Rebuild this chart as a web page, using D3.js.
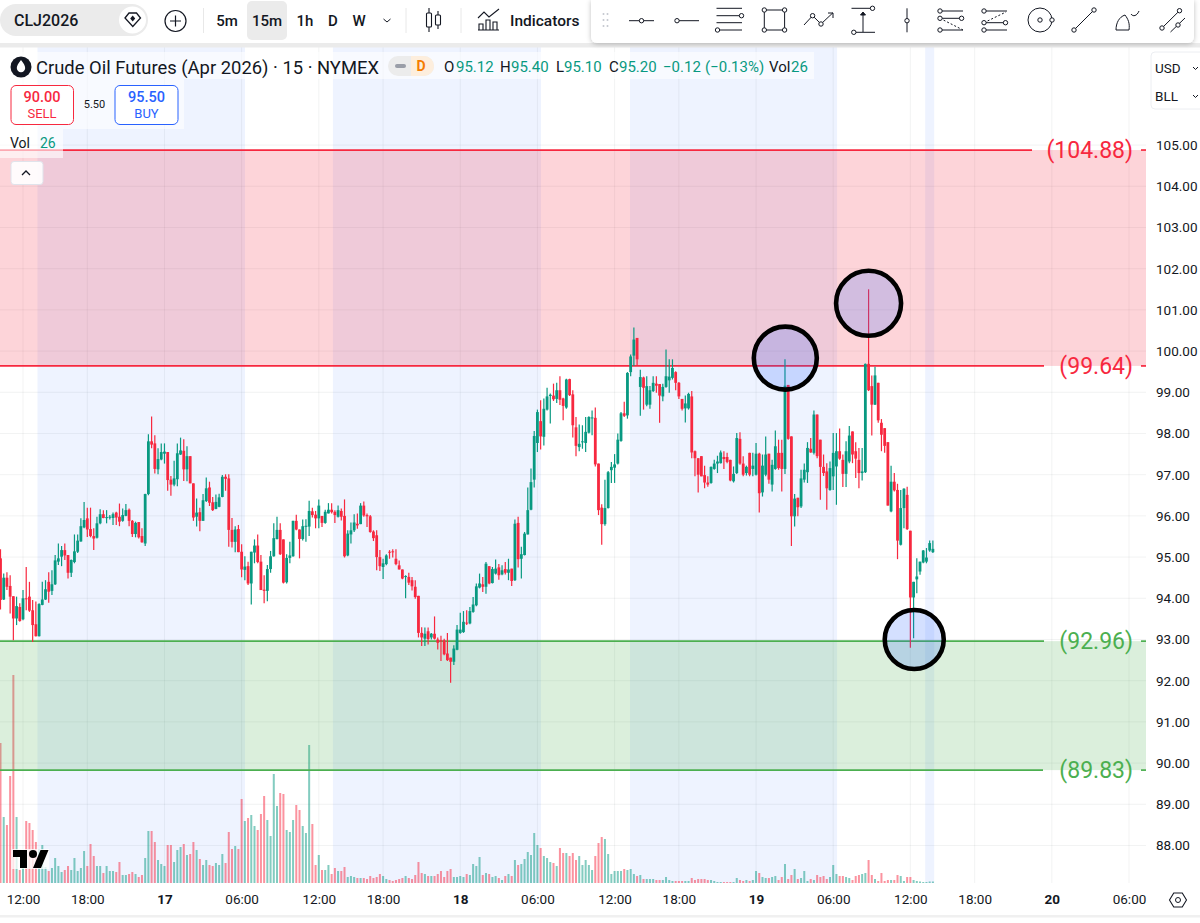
<!DOCTYPE html>
<html>
<head>
<meta charset="utf-8">
<script src="https://cdn.jsdelivr.net/npm/d3@7"></script>
<style>
  html, body { margin: 0; padding: 0; background: #fff; }
  svg { display: block; font-family: Roboto, "Noto Sans", sans-serif; }
</style>
</head>
<body>
<div id="chart"></div>
<script>
// 15 minute bars
const opens = [
  94.97,93.97,94.50,94.30,94.05,93.51,93.79,93.49,94.00,94.04,
  93.71,93.37,93.08,93.84,93.97,94.40,94.18,94.34,94.89,95.01,
  95.17,95.05,94.62,94.88,95.13,95.38,95.72,95.94,95.68,95.51,
  95.47,95.82,96.04,95.95,95.96,95.95,96.08,95.98,95.88,96.00,
  96.15,95.88,95.56,95.85,95.51,95.33,96.53,97.81,97.76,97.13,
  97.37,97.51,97.55,96.88,96.76,96.89,97.49,97.58,97.13,97.45,
  96.79,95.98,96.09,95.88,96.36,96.69,96.33,96.17,96.22,96.46,
  96.95,96.91,95.66,95.37,95.68,95.13,94.69,94.78,94.36,95.11,
  95.28,94.89,94.21,94.18,94.71,95.02,95.44,95.66,95.43,94.39,
  94.98,95.02,95.88,95.67,95.44,95.74,95.74,96.11,96.03,95.94,
  96.00,95.83,96.06,96.15,96.10,95.98,96.12,96.00,95.04,95.55,
  95.65,95.81,95.80,96.25,96.02,95.99,95.62,95.53,95.00,94.76,
  94.83,95.13,95.14,94.96,94.80,94.70,94.52,94.52,94.44,94.28,
  94.06,93.16,93.02,93.20,93.05,93.14,93.00,92.98,92.98,92.66,
  92.56,92.46,92.75,93.16,93.18,93.41,93.39,93.67,93.83,94.26,
  94.34,94.28,94.78,94.37,94.60,94.75,94.58,94.71,94.62,94.72,
  94.44,95.83,94.96,95.05,95.55,96.15,96.88,97.77,98.30,97.92,
  98.58,98.91,98.92,98.84,99.05,98.85,98.63,99.32,98.95,98.15,
  97.67,97.80,97.77,98.02,98.38,98.38,97.27,96.20,95.80,96.19,
  97.11,97.17,97.27,97.82,98.49,98.44,99.49,99.89,100.32,99.13,
  99.36,98.70,98.70,99.03,99.21,99.20,98.90,99.13,99.29,99.35,
  99.49,99.23,98.84,98.61,98.61,98.90,97.57,97.40,97.45,96.99,
  96.81,96.80,97.14,97.27,97.28,97.43,97.43,97.36,96.84,97.04,
  97.87,97.27,97.04,97.53,97.14,97.00,97.51,96.57,97.00,97.51,
  96.76,97.14,97.53,97.53,97.14,99.18,97.93,95.99,96.44,96.23,
  96.88,97.06,97.63,97.53,98.46,97.85,97.19,97.08,96.63,96.96,
  97.20,97.57,97.36,97.02,97.32,98.05,97.57,97.36,97.04,97.06,
  99.69,99.15,98.70,99.23,98.26,98.13,97.79,96.11,96.83,96.63,
  95.30,96.19,96.51,95.64,94.02,94.46,94.65,94.87,94.89,95.16,95.12
];
const highs = [
  95.19,94.60,94.63,94.56,94.05,94.04,93.88,94.20,94.76,94.40,
  93.96,93.92,93.88,94.40,94.44,94.63,94.68,95.05,95.33,95.27,
  95.33,95.05,94.94,95.55,95.55,95.94,96.34,96.20,96.20,95.70,
  95.98,96.16,96.14,96.14,96.02,96.08,96.10,96.30,96.18,96.29,
  96.18,95.90,95.86,95.85,95.70,96.54,97.98,98.41,97.96,97.64,
  97.76,97.76,97.55,96.97,97.34,97.76,97.90,97.86,97.69,97.45,
  96.79,96.42,96.20,96.53,96.93,96.83,96.46,96.52,96.54,96.99,
  97.01,97.01,95.95,95.75,95.78,95.31,95.02,94.89,95.13,95.43,
  95.55,95.05,94.56,94.81,95.15,95.82,95.98,95.82,95.43,95.07,
  95.37,95.88,96.03,95.67,95.91,95.92,96.37,96.20,96.12,96.40,
  96.00,96.15,96.31,96.31,96.14,96.25,96.18,96.40,95.65,95.84,
  96.04,96.06,96.31,96.35,96.06,96.02,95.65,95.65,95.17,94.96,
  95.07,95.17,95.19,95.19,94.92,94.70,94.56,94.62,94.52,94.44,
  94.06,93.30,93.29,93.29,93.16,93.56,93.05,93.09,93.02,93.16,
  92.56,92.86,93.35,93.65,93.69,93.71,93.79,94.03,94.36,94.60,
  94.52,94.88,94.78,94.76,94.94,94.83,94.80,94.88,94.96,94.72,
  95.91,95.98,95.25,95.61,96.69,97.15,98.06,98.58,98.81,98.85,
  99.11,98.97,99.21,99.23,99.39,98.87,99.33,99.33,99.05,98.40,
  98.22,98.20,98.40,98.42,98.56,98.63,97.27,96.28,96.88,97.09,
  97.31,97.50,98.00,98.52,98.77,99.49,99.92,100.57,100.32,99.55,
  99.38,99.39,99.15,99.39,99.39,99.20,99.21,100.04,99.80,99.80,
  99.51,99.25,98.84,98.92,98.99,99.03,97.59,97.40,97.45,97.22,
  96.96,97.20,97.36,97.46,97.59,97.57,97.53,97.36,97.20,98.01,
  98.03,97.45,97.22,97.53,97.53,97.77,97.53,97.49,97.93,97.51,
  97.36,98.07,97.85,97.85,99.80,99.18,97.93,96.53,96.44,97.12,
  97.27,97.79,97.89,98.56,98.46,97.85,97.49,97.28,97.32,98.01,
  98.01,98.12,97.49,97.81,98.18,98.05,97.79,97.65,97.65,99.70,
  101.50,99.41,99.62,99.23,98.35,98.13,97.79,97.22,97.04,96.78,
  96.63,96.67,96.71,95.64,94.40,94.97,94.89,95.17,95.22,95.40,95.40
];
const lows = [
  93.73,93.96,94.20,93.63,92.98,93.35,93.43,93.47,93.71,93.67,
  92.94,93.07,93.07,93.83,93.96,93.89,94.08,94.32,94.81,94.78,
  94.93,94.48,94.52,94.85,95.10,95.37,95.70,95.49,95.48,95.17,
  95.45,95.80,95.94,95.82,95.91,95.78,95.78,95.75,95.86,95.99,
  95.75,95.49,95.48,95.45,95.35,95.27,96.50,97.64,97.03,97.01,
  97.35,97.27,96.61,96.49,96.72,96.72,97.48,96.85,96.84,96.79,
  95.88,95.74,95.63,95.88,96.34,96.24,96.12,96.16,96.21,96.45,
  96.61,95.25,95.23,95.12,95.12,94.51,94.44,94.32,93.85,94.85,
  94.85,94.20,93.88,93.93,94.62,95.01,95.43,95.05,94.36,94.36,
  94.85,95.01,95.65,94.97,95.40,95.37,95.51,95.96,95.70,95.70,
  95.73,95.81,96.06,96.06,95.83,95.96,95.89,94.99,95.02,95.33,
  95.61,95.69,95.80,95.98,95.73,95.59,95.39,94.68,94.66,94.47,
  94.80,94.96,94.99,94.80,94.70,94.46,94.00,94.32,94.19,93.99,
  93.05,92.84,92.84,92.88,93.00,93.00,92.76,92.48,92.62,92.48,
  91.95,92.38,92.74,93.14,93.16,93.35,93.37,93.65,93.81,94.24,
  94.15,94.11,94.34,94.36,94.58,94.45,94.56,94.58,94.44,94.30,
  94.42,94.75,94.48,95.04,95.55,96.14,96.69,97.55,97.61,97.71,
  98.56,98.24,98.79,98.74,98.69,98.32,98.60,98.91,97.90,97.45,
  97.57,97.63,97.55,98.00,97.96,97.20,96.02,95.30,95.76,96.18,
  96.80,96.80,97.25,97.80,98.40,98.36,99.39,99.64,99.65,98.43,
  98.58,98.66,98.60,99.01,98.99,98.26,98.78,99.11,98.99,99.31,
  99.05,98.84,98.56,98.27,98.58,97.40,96.96,96.57,96.96,96.67,
  96.71,96.78,97.12,97.04,97.27,97.14,97.28,96.84,96.81,97.02,
  97.24,96.96,96.98,96.96,96.96,96.98,96.08,96.47,96.96,96.78,
  96.59,97.12,97.12,96.59,97.02,97.85,95.27,95.74,95.99,96.19,
  96.81,96.80,97.53,97.49,97.40,96.39,96.97,96.15,96.61,96.63,
  96.27,97.36,96.70,96.70,97.28,97.28,96.92,96.67,96.86,97.04,
  99.03,97.95,98.69,98.26,97.57,97.53,96.25,96.09,96.59,94.95,
  95.28,95.70,95.66,92.80,93.03,94.12,94.57,94.85,94.85,95.13,95.10
];
const closes = [
  93.96,94.50,94.28,94.04,93.51,93.81,93.45,94.00,93.99,93.70,
  93.35,93.08,93.86,93.97,94.22,94.16,94.34,94.92,94.97,95.17,
  95.04,94.62,94.93,95.14,95.40,95.75,95.90,95.67,95.51,95.45,
  95.82,96.04,95.95,95.97,95.98,96.04,95.96,95.86,96.02,96.14,
  95.88,95.56,95.83,95.48,95.36,96.53,97.81,97.73,97.14,97.38,
  97.55,97.56,96.87,96.76,96.91,97.52,97.59,97.13,97.45,96.79,
  95.96,96.08,95.88,96.38,96.67,96.32,96.14,96.34,96.45,96.95,
  96.90,95.66,95.37,95.67,95.12,94.70,94.77,94.36,95.13,95.28,
  94.88,94.20,94.18,94.71,95.02,95.46,95.66,95.07,94.38,94.98,
  95.04,95.88,95.67,95.44,95.75,95.76,96.12,96.02,95.94,96.25,
  95.83,96.10,96.15,96.09,96.02,96.14,95.98,95.02,95.57,95.65,
  95.84,95.77,96.25,96.01,95.99,95.61,95.46,95.00,94.78,94.85,
  95.04,95.11,95.13,94.83,94.70,94.48,94.54,94.38,94.29,94.03,
  93.16,93.05,93.14,93.01,93.14,93.02,92.92,92.97,92.64,92.50,
  92.46,92.78,93.24,93.24,93.43,93.39,93.69,93.85,94.29,94.36,
  94.28,94.84,94.36,94.71,94.72,94.56,94.68,94.62,94.70,94.42,
  95.81,94.95,95.07,95.57,96.14,96.82,97.94,98.52,97.93,98.60,
  98.90,98.94,98.83,99.05,98.82,98.67,99.31,98.93,98.20,97.70,
  97.75,97.81,98.04,98.40,98.39,97.25,96.14,95.80,96.19,97.06,
  97.19,97.25,97.85,98.49,98.43,99.47,99.87,100.28,99.80,99.37,
  99.11,99.15,99.05,99.23,99.16,98.92,99.13,99.39,99.38,99.59,
  99.23,98.90,98.60,98.73,98.96,97.54,97.40,97.00,96.96,96.81,
  96.76,97.19,97.27,97.32,97.54,97.38,97.31,96.86,97.02,97.89,
  97.27,97.00,97.19,97.00,97.22,97.51,96.55,97.22,97.49,96.88,
  97.24,97.69,97.16,97.14,99.16,97.87,95.99,96.42,96.21,96.91,
  97.12,97.65,97.54,98.46,97.45,97.19,97.04,96.67,97.16,97.53,
  97.57,97.39,97.02,97.57,97.95,97.49,97.39,97.04,97.08,99.69,
  99.05,98.70,99.41,98.32,97.97,97.70,96.25,96.83,96.62,95.40,
  96.19,96.66,95.68,94.02,94.40,94.53,94.89,95.16,94.99,95.34,95.20
];
const volumes = [
  140,66,58,107,208,66,13,20,62,60,
  53,41,34,38,16,12,15,25,17,11,
  13,17,13,25,12,15,32,17,39,27,
  17,17,10,17,12,12,11,21,8,8,
  9,11,9,6,8,25,52,52,41,23,
  19,17,38,38,21,33,36,39,28,29,
  41,33,24,18,23,18,17,20,18,29,
  20,51,34,37,34,84,62,65,68,57,
  53,69,87,63,47,109,77,90,89,53,
  51,63,78,73,57,50,138,59,18,28,
  13,13,18,9,15,12,12,16,6,7,
  6,5,5,5,4,7,5,6,9,7,
  4,3,2,3,4,5,7,5,4,8,
  21,10,9,7,7,7,9,12,6,12,
  14,6,6,7,6,9,8,19,17,26,
  8,10,9,6,7,5,3,7,9,7,
  23,18,19,24,31,28,50,38,35,27,
  25,21,20,17,35,30,30,27,30,23,
  27,18,23,18,13,27,40,46,44,29,
  9,12,12,12,14,13,14,9,7,8,
  4,4,4,4,3,3,3,6,3,2,
  2,2,2,2,2,5,3,4,4,4,
  3,3,2,1,1,1,1,1,1,5,
  3,2,3,2,3,12,10,6,5,5,
  6,7,3,6,19,4,8,14,4,5,
  12,2,4,3,8,6,7,4,6,18,
  9,7,7,6,5,3,7,8,9,10,
  23,8,4,2,10,2,3,3,3,8,
  7,2,6,6,3,2,1.5,1,1,1.5,1.5
];

// time axis, positions are bar numbers
const timeTicks = [7,27,51,75,99,119,143,167,191,211,235,259,283,303,327,351];
const timeLabels = ["12:00","18:00","17","06:00","12:00","18:00","18","06:00","12:00","18:00","19","06:00","12:00","18:00","20","06:00"];
const dayLabels = ["17","18","19","20"];
const priceTicks = d3.range(88, 106);

// extended sessions shaded blue, start and end bar
const sessionStarts = [11.5, 103.4, 195.8, 287.6];
const sessionEnds = [76.05, 168.1, 260.2, 290.4];

// supply and demand zones
const zoneTops = [104.88, 92.96];
const zoneBottoms = [99.64, 89.83];
const zoneColors = ["#f7283f", "#4caf50"];

// marked candles: bar number, price, radius
const markBars = [244.1, 270, 284.2];
const markPrices = [99.83, 101.16, 93.0];
const markRadius = [31.5, 32.5, 29.5];

const W = 1200, H = 923;
const pane = {left: 0, right: 1146, top: 47, bottom: 883};
const upColor = "#089981", downColor = "#f7283f";
const ink = "#131722";

const svg = d3.select("#chart").append("svg").attr("width", W).attr("height", H);

const x = d3.scaleLinear().domain([0, 351]).range([0.5, 1129]);
const y = d3.scaleLinear().domain([88, 105]).range([845.5, 145.1]);
const yVol = d3.scaleLinear().domain([0, 210]).range([pane.bottom, pane.bottom - 210]);

const bars = d3.range(opens.length);
const isUp = i => closes[i] >= opens[i];

// grid
const grid = svg.append("g").attr("stroke", "#2a2e39").attr("stroke-opacity", 0.06);
grid.selectAll("line.h").data(priceTicks).join("line").attr("class", "h")
  .attr("x1", pane.left).attr("x2", pane.right)
  .attr("y1", d => y(d)).attr("y2", d => y(d));
grid.selectAll("line.v").data(timeTicks).join("line").attr("class", "v")
  .attr("x1", d => x(d)).attr("x2", d => x(d))
  .attr("y1", pane.top).attr("y2", pane.bottom);

// session shading
svg.append("g").selectAll("rect").data(sessionStarts).join("rect")
  .attr("x", d => x(d))
  .attr("width", (d, i) => x(sessionEnds[i]) - x(d))
  .attr("y", pane.top).attr("height", pane.bottom - pane.top)
  .attr("fill", "#2962ff").attr("fill-opacity", 0.08);

// volume
svg.append("g").selectAll("rect").data(bars).join("rect")
  .attr("x", i => x(i) - 1).attr("width", 2)
  .attr("y", i => yVol(volumes[i]))
  .attr("height", i => pane.bottom - yVol(volumes[i]))
  .attr("fill", i => isUp(i) ? upColor : downColor)
  .attr("fill-opacity", 0.5);

// zones
svg.append("g").selectAll("rect").data(zoneTops).join("rect")
  .attr("x", pane.left).attr("width", pane.right)
  .attr("y", d => y(d))
  .attr("height", (d, i) => y(zoneBottoms[i]) - y(d))
  .attr("fill", (d, i) => zoneColors[i]).attr("fill-opacity", 0.2);

// zone edges and price labels
const levels = [104.88, 99.64, 92.96, 89.83];
const levelColors = [zoneColors[0], zoneColors[0], zoneColors[1], zoneColors[1]];
const levelEnds = [1032, 1044, 1044, 1043];
const levelG = svg.append("g");
levelG.selectAll("line.edge").data(levels).join("line").attr("class", "edge")
  .attr("x1", pane.left).attr("x2", (d, i) => levelEnds[i])
  .attr("y1", d => y(d)).attr("y2", d => y(d))
  .attr("stroke", (d, i) => levelColors[i]).attr("stroke-width", 1.7);
levelG.selectAll("line.end").data(levels).join("line").attr("class", "end")
  .attr("x1", 1141).attr("x2", pane.right)
  .attr("y1", d => y(d)).attr("y2", d => y(d))
  .attr("stroke", (d, i) => levelColors[i]).attr("stroke-width", 1.7);
levelG.selectAll("text").data(levels).join("text")
  .attr("x", 1133).attr("y", d => y(d)).attr("dy", "0.35em")
  .attr("text-anchor", "end").attr("font-size", 23)
  .attr("fill", (d, i) => levelColors[i])
  .text(d => `(${d.toFixed(2)})`);

// candles
const candles = svg.append("g");
candles.selectAll("line").data(bars).join("line")
  .attr("x1", i => x(i)).attr("x2", i => x(i))
  .attr("y1", i => y(highs[i])).attr("y2", i => y(lows[i]))
  .attr("stroke", i => isUp(i) ? upColor : downColor).attr("stroke-width", 1.2);
candles.selectAll("rect").data(bars).join("rect")
  .attr("x", i => x(i) - 1.4).attr("width", 2.8)
  .attr("y", i => y(Math.max(opens[i], closes[i])))
  .attr("height", i => Math.max(1, Math.abs(y(opens[i]) - y(closes[i]))))
  .attr("fill", i => isUp(i) ? upColor : downColor);

// circles drawn around the wicks
svg.append("g").selectAll("circle").data(markBars).join("circle")
  .attr("cx", d => x(d))
  .attr("cy", (d, i) => y(markPrices[i]))
  .attr("r", (d, i) => markRadius[i])
  .attr("fill", "#2962ff").attr("fill-opacity", 0.2)
  .attr("stroke", "#000").attr("stroke-width", 4.6);

// price axis
const yAxis = svg.append("g").attr("transform", "translate(1156,0)")
  .call(d3.axisRight(y).tickValues(priceTicks).tickSize(0).tickPadding(0).tickFormat(d3.format(".2f")));
yAxis.select(".domain").remove();
yAxis.selectAll("text").attr("font-size", 13.5).attr("font-family", "Roboto").attr("fill", ink);

// time axis
const xAxis = svg.append("g").attr("transform", `translate(0,${pane.bottom})`)
  .call(d3.axisBottom(x).tickValues(timeTicks).tickSize(0).tickPadding(11)
    .tickFormat((d, i) => timeLabels[i]));
xAxis.select(".domain").remove();
xAxis.selectAll("text").attr("font-size", 13.5).attr("font-family", "Roboto").attr("fill", ink)
  .attr("font-weight", function () { return dayLabels.includes(this.textContent) ? 700 : 400; });

svg.append("rect").attr("x", 0).attr("y", 915).attr("width", W).attr("height", 2.5).attr("fill", "#f0f0f0");

// settings hexagon
svg.append("path").attr("d", d3.line()(d3.range(6).map(k => [1178 + 8.5 * Math.cos(k * Math.PI / 3), 900 + 8 * Math.sin(k * Math.PI / 3)])) + "Z")
  .attr("fill", "none").attr("stroke", ink).attr("stroke-width", 1.1);
svg.append("circle").attr("cx", 1178).attr("cy", 900).attr("r", 2.5).attr("fill", "none").attr("stroke", ink);

// tradingview mark
const tv = svg.append("g").attr("transform", "translate(13,846)");
tv.append("rect").attr("x", -1).attr("y", 3).attr("width", 37).attr("height", 20).attr("fill", "#fff").attr("fill-opacity", 0.75);
tv.append("path").attr("d", "M14 22H7V11H0V4h14v18zM28 22h-8l7.5-18h8L28 22z").attr("fill", "#000");
tv.append("circle").attr("cx", 20).attr("cy", 8).attr("r", 4).attr("fill", "#000");

// legend backing
const legend = svg.append("g");
[[0, 52, 814, 27], [0, 79, 184, 50], [0, 129, 63, 29]].forEach(b => {
  legend.append("rect").attr("x", b[0]).attr("y", b[1]).attr("width", b[2]).attr("height", b[3])
    .attr("fill", "#fff").attr("fill-opacity", 0.6);
});
const txt = (g, s, px, py, size, fill, opts = {}) => g.append("text")
  .attr("x", px).attr("y", py).attr("dy", "0.35em").attr("font-size", size).attr("fill", fill)
  .attr("text-anchor", opts.anchor || "start").attr("font-weight", opts.weight || 400).text(s);

// legend title
legend.append("circle").attr("cx", 21).attr("cy", 67).attr("r", 10.5).attr("fill", "#131722");
legend.append("path").attr("d", "M21 60c-2.5 3.4-4.2 5.5-4.2 8a4.2 4.2 0 0 0 8.4 0c0-2.5-1.700-4.600-4.200-8z").attr("fill", "#fff");
txt(legend, "Crude Oil Futures (Apr 2026) · 15 · NYMEX", 36, 67.5, 18.4, ink);

legend.append("rect").attr("x", 388).attr("y", 56).attr("width", 46).attr("height", 20).attr("rx", 10).attr("fill", "#ececec");
legend.append("path").attr("d", "M411 56h13a10 10 0 0 1 0 20h-13z").attr("fill", "#fdeedd");
legend.append("rect").attr("x", 395).attr("y", 64).attr("width", 11).attr("height", 4).attr("rx", 2).attr("fill", "#9a9ea8");
txt(legend, "D", 421, 66.500, 14, "#f57c00", {anchor: "middle", weight: 700});

[["O", 444, ink], ["95.12", 456, upColor], ["H", 500, ink], ["95.40", 511, upColor],
 ["L", 556, ink], ["95.10", 564, upColor], ["C", 609, ink], ["95.20", 619, upColor],
 ["−0.12", 663, upColor], ["(−0.13%)", 705, upColor], ["Vol", 769, ink], ["26", 791, upColor]]
  .forEach(t => txt(legend, t[0], t[1], 67, 15, t[2]));

// sell and buy boxes
legend.append("rect").attr("x", 11).attr("y", 85.5).attr("width", 62.5).attr("height", 39).attr("rx", 5)
  .attr("fill", "#fff").attr("stroke", downColor);
txt(legend, "90.00", 42, 97, 14.5, downColor, {anchor: "middle", weight: 500});
txt(legend, "SELL", 42, 113, 13, downColor, {anchor: "middle"});
txt(legend, "5.50", 94.500, 104, 11, ink, {anchor: "middle"});
legend.append("rect").attr("x", 115).attr("y", 85.5).attr("width", 63).attr("height", 39).attr("rx", 5)
  .attr("fill", "#fff").attr("stroke", "#2962ff");
txt(legend, "95.50", 146.500, 97, 14.5, "#2962ff", {anchor: "middle", weight: 500});
txt(legend, "BUY", 146.500, 113, 13, "#2962ff", {anchor: "middle"});

txt(legend, "Vol", 10, 143, 14, ink);
txt(legend, "26", 40, 143, 14, upColor);

// collapse button
legend.append("rect").attr("x", 11).attr("y", 161.500).attr("width", 32).attr("height", 23).attr("rx", 3)
  .attr("fill", "#fff").attr("fill-opacity", 0.9).attr("stroke", "#e0e3eb");
legend.append("path").attr("d", "M22 175l4-4 4 4").attr("fill", "none").attr("stroke", ink).attr("stroke-width", 1.3);

// currency box
const unitBox = svg.append("g");
unitBox.append("rect").attr("x", 1151).attr("y", 52).attr("width", 60).attr("height", 57).attr("rx", 4)
  .attr("fill", "#fff").attr("stroke", "#eceef2");
txt(unitBox, "USD", 1155, 68, 13.5, ink);
txt(unitBox, "BLL", 1155, 96, 13.5, ink);
[68, 96].forEach(cy => unitBox.append("path").attr("d", `M1193 ${cy - 1}l2.500 2.500 2.500-2.500`).attr("fill", "none").attr("stroke", ink));

// top toolbar
const topBar = svg.append("g");
topBar.append("rect").attr("width", W).attr("height", 43).attr("fill", "#fff");
topBar.append("rect").attr("y", 43).attr("width", W).attr("height", 4.5).attr("fill", "#ebebeb");
topBar.append("rect").attr("x", 0).attr("y", 4).attr("width", 148).attr("height", 32).attr("rx", 16).attr("fill", "#ebebeb");
txt(topBar, "CLJ2026", 14, 20.500, 16, ink, {weight: 500});
topBar.append("circle").attr("cx", 132.500).attr("cy", 20).attr("r", 13.500).attr("fill", "#fff");
topBar.append("path").attr("d", "M125 18l4-5h7.500l4 5-7.700 8.500z").attr("fill", "none").attr("stroke", ink).attr("stroke-width", 1.3);
topBar.append("path").attr("d", "M132.700 15.500l2.500 3-2.500 3-2.500-3z").attr("fill", ink);
topBar.append("circle").attr("cx", 175.500).attr("cy", 21).attr("r", 10.500).attr("fill", "none").attr("stroke", ink).attr("stroke-width", 1.2);
topBar.append("path").attr("d", "M170 21h11M175.500 15.500v11").attr("stroke", ink).attr("stroke-width", 1.2);

[203.5, 406, 461].forEach(px => topBar.append("line").attr("x1", px).attr("x2", px).attr("y1", 8).attr("y2", 33).attr("stroke", "#e8e8e8"));
topBar.append("rect").attr("x", 247).attr("y", 1).attr("width", 40).attr("height", 39).attr("rx", 5).attr("fill", "#ebebeb");
[["5m", 227], ["15m", 267], ["1h", 305], ["D", 333], ["W", 359]]
  .forEach(t => txt(topBar, t[0], t[1], 20.500, 15, ink, {anchor: "middle", weight: 500}));
topBar.append("path").attr("d", "M383.500 19l3.500 3 3.500-3").attr("fill", "none").attr("stroke", ink);

// candle icon
topBar.append("path").attr("d", "M429 8v5M429 27v5M438 11v4M438 25v4").attr("stroke", ink).attr("stroke-width", 1.1);
topBar.append("rect").attr("x", 426.500).attr("y", 13).attr("width", 5).attr("height", 14).attr("rx", 1).attr("fill", "none").attr("stroke", ink).attr("stroke-width", 1.1);
topBar.append("rect").attr("x", 435.500).attr("y", 15).attr("width", 5).attr("height", 10).attr("rx", 1).attr("fill", "none").attr("stroke", ink).attr("stroke-width", 1.1);

// indicators icon
topBar.append("path").attr("d", "M478 18l6-6 5 5 10-8").attr("fill", "none").attr("stroke", ink).attr("stroke-width", 1.1);
topBar.append("path").attr("d", "M479 30v-6h4v6zM486 30v-10h4v10zM493 30v-8h4v8zM478 30h21").attr("fill", "none").attr("stroke", ink).attr("stroke-width", 1.1);
txt(topBar, "Indicators", 510, 20.500, 15.500, ink, {weight: 500});

// drawing tools panel
const shadow = svg.append("defs").append("filter").attr("id", "sh").attr("x", "-5%").attr("y", "-20%").attr("width", "110%").attr("height", "160%");
shadow.append("feDropShadow").attr("dx", 0).attr("dy", 1).attr("stdDeviation", 2.5).attr("flood-opacity", 0.25);
topBar.append("path").attr("d", "M591 0h603v37a6 6 0 0 1-6 6h-591a6 6 0 0 1-6-6z").attr("fill", "#fff").attr("filter", "url(#sh)");

const tools = topBar.append("g").attr("fill", "none").attr("stroke", ink).attr("stroke-width", 1);
const ln = (a, b, c, d, dash) => tools.append("line").attr("x1", a).attr("y1", b).attr("x2", c).attr("y2", d).attr("stroke-dasharray", dash || null);
const hd = (a, b) => tools.append("circle").attr("cx", a).attr("cy", b).attr("r", 2.2).attr("fill", "#fff");

[603.5, 607.5].forEach(px => [14, 20, 26].forEach(py => topBar.append("circle").attr("cx", px).attr("cy", py).attr("r", 1).attr("fill", "#c4c7cf")));

ln(629, 20.7, 654, 20.7); hd(641.5, 20.7);
ln(677, 20.7, 699, 20.7); hd(677, 20.7);
[8.3, 15.7, 22.7, 30].forEach(py => ln(716.500, py, 742, py)); hd(741.500, 15.7); hd(717.500, 30);
tools.append("rect").attr("x", 764.300).attr("y", 10).attr("width", 20.300).attr("height", 20);
[[764.3, 10], [784.6, 10], [764.3, 30], [784.6, 30]].forEach(p => hd(p[0], p[1]));
tools.append("path").attr("d", "M804 25l8.600-9.300 8.400 8.300 12-11.300m-5 .3h5v5");
hd(812.6, 15.7); hd(821, 24);
ln(851.500, 8.300, 873, 8.300); ln(852.600, 32.300, 875, 32.300); ln(863, 13, 863, 32);
tools.append("path").attr("d", "M860.500 15l2.500-3 2.500 3z").attr("fill", ink);
hd(872.500, 8.300); hd(853.800, 32.300);
ln(907, 8.300, 907, 32.300); hd(907, 20.700);
[11, 18.3, 30].forEach(py => ln(938, py, 963, py)); ln(940, 18.3, 963, 30, "2 2");
hd(940, 11); hd(940, 18.3); hd(961.6, 18.3); hd(940, 30);
[11, 22.7, 30].forEach(py => ln(983, py, 1007, py)); ln(984, 22.7, 1006, 12, "2 2");
hd(984, 11); hd(984, 22.7); hd(1005.500, 22.7); hd(984, 30);
tools.append("circle").attr("cx", 1040).attr("cy", 20).attr("r", 12);
hd(1040, 20); hd(1052, 20);
ln(1074, 30, 1094, 10); hd(1074, 30); hd(1094, 10);
tools.append("path").attr("d", "M1116 30c0-7 3-13 9-15 3 4 5 8 4 15zM1131 14c2 3 6 2 8-3");
ln(1162, 28, 1179.500, 10.700); ln(1170.500, 32, 1185, 18); hd(1162, 28); hd(1179.500, 10.700); hd(1178, 25);
</script>
</body>
</html>
